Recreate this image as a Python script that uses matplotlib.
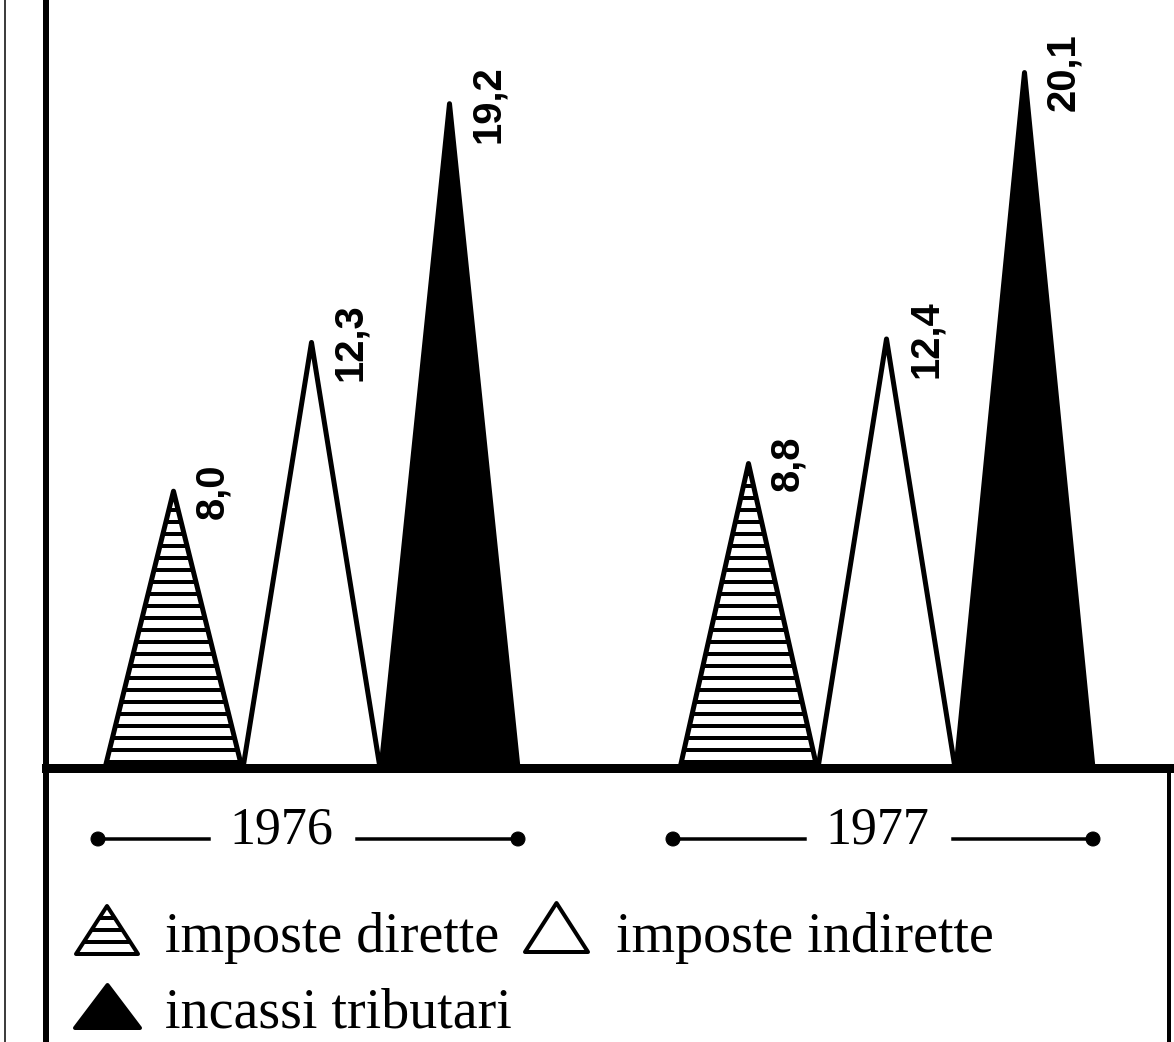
import matplotlib
matplotlib.use("Agg")
import matplotlib.pyplot as plt
from matplotlib.patches import Polygon, Circle

# ── Data ───────────────────────────────────────────────────────────────────────
YEARS = ["1976", "1977"]
SERIES = ["imposte dirette", "imposte indirette", "incassi tributari"]
VALUES = {
    "1976": [8.0, 12.3, 19.2],
    "1977": [8.8, 12.4, 20.1],
}
LABELS = {
    "1976": ["8,0", "12,3", "19,2"],
    "1977": ["8,8", "12,4", "20,1"],
}

# ── Layout (pixels, dpi 72 so 1 pt == 1 px) ────────────────────────────────────
W, H = 1174, 1042
BASE_PX = 768          # baseline position from top
PX_PER_UNIT = 34.6
GROUP_X0 = [105, 680]  # left edge of each year group
TRI_W = 137
TRI_STEP = 138
YEAR_TEXT_SHIFT = [-27, -6]

plt.rcParams["hatch.linewidth"] = 4.0
plt.rcParams["hatch.color"] = "black"

fig = plt.figure(figsize=(W / 72, H / 72), dpi=72)
fig.patch.set_facecolor("white")

# data axes: x in pixels, y in value units
ax = fig.add_axes([0, 0, 1, 1])
ax.set_xlim(0, W)
ax.set_ylim(-(H - BASE_PX) / PX_PER_UNIT, BASE_PX / PX_PER_UNIT)
ax.axis("off")

# overlay axes in pixel coordinates (top = 0)
lay = fig.add_axes([0, 0, 1, 1], zorder=3)
lay.set_xlim(0, W)
lay.set_ylim(H, 0)
lay.axis("off")
lay.patch.set_alpha(0)

styles = [
    dict(facecolor="white", edgecolor="black", hatch="-"),
    dict(facecolor="white", edgecolor="black"),
    dict(facecolor="black", edgecolor="black"),
]

# ── Triangles ──────────────────────────────────────────────────────────────────
for g, year in enumerate(YEARS):
    for i, val in enumerate(VALUES[year]):
        x0 = GROUP_X0[g] + i * TRI_STEP
        xc = x0 + TRI_W / 2
        tri = Polygon([(x0, 0), (xc, val), (x0 + TRI_W, 0)], closed=True,
                      linewidth=5, joinstyle="round", **styles[i])
        ax.add_patch(tri)
        ax.text(xc + 39, val, LABELS[year][i], rotation=90,
                ha="center", va="center", fontsize=40, fontweight="bold",
                family="Liberation Sans", color="black")

    # year label with dotted rule
    gl = GROUP_X0[g] - 7
    gr = GROUP_X0[g] + 2 * TRI_STEP + TRI_W
    yc = 839
    tx = (gl + gr) / 2 + YEAR_TEXT_SHIFT[g]
    half = 50
    lay.plot([gl, tx - half - 22], [yc, yc], color="black", lw=3.5)
    lay.plot([tx + half + 26, gr], [yc, yc], color="black", lw=3.5)
    for xd in (gl, gr):
        lay.add_patch(Circle((xd, yc), 7, color="black"))
    lay.text(tx, 843, year, ha="center", va="baseline", fontsize=52,
             family="Liberation Serif", color="black")

# ── Frame lines ────────────────────────────────────────────────────────────────
ax.axhline(0, xmin=46 / W, xmax=1, color="black", lw=9, zorder=5)
lay.plot([46, 46], [0, H], color="black", lw=6)
lay.plot([5, 5], [0, H], color="black", lw=1.5)
lay.plot([1169, 1169], [BASE_PX, H], color="black", lw=4)

# ── Legend ─────────────────────────────────────────────────────────────────────
legend_items = [
    # (x_left, x_right, y_apex, y_base, text_x, text_baseline)
    (76, 138, 906, 954, 165, 952),
    (525, 588, 903, 952, 616, 952),
    (75, 140, 985, 1028, 165, 1028),
]
for i, (xl, xr, ya, yb, tx, tb) in enumerate(legend_items):
    tri = Polygon([(xl, yb), ((xl + xr) / 2, ya), (xr, yb)], closed=True,
                  linewidth=4, joinstyle="round", **styles[i])
    lay.add_patch(tri)
    lay.text(tx, tb, SERIES[i], ha="left", va="baseline", fontsize=56,
             family="Liberation Serif", color="black")

fig.savefig("out.png", dpi=72, facecolor="white")
